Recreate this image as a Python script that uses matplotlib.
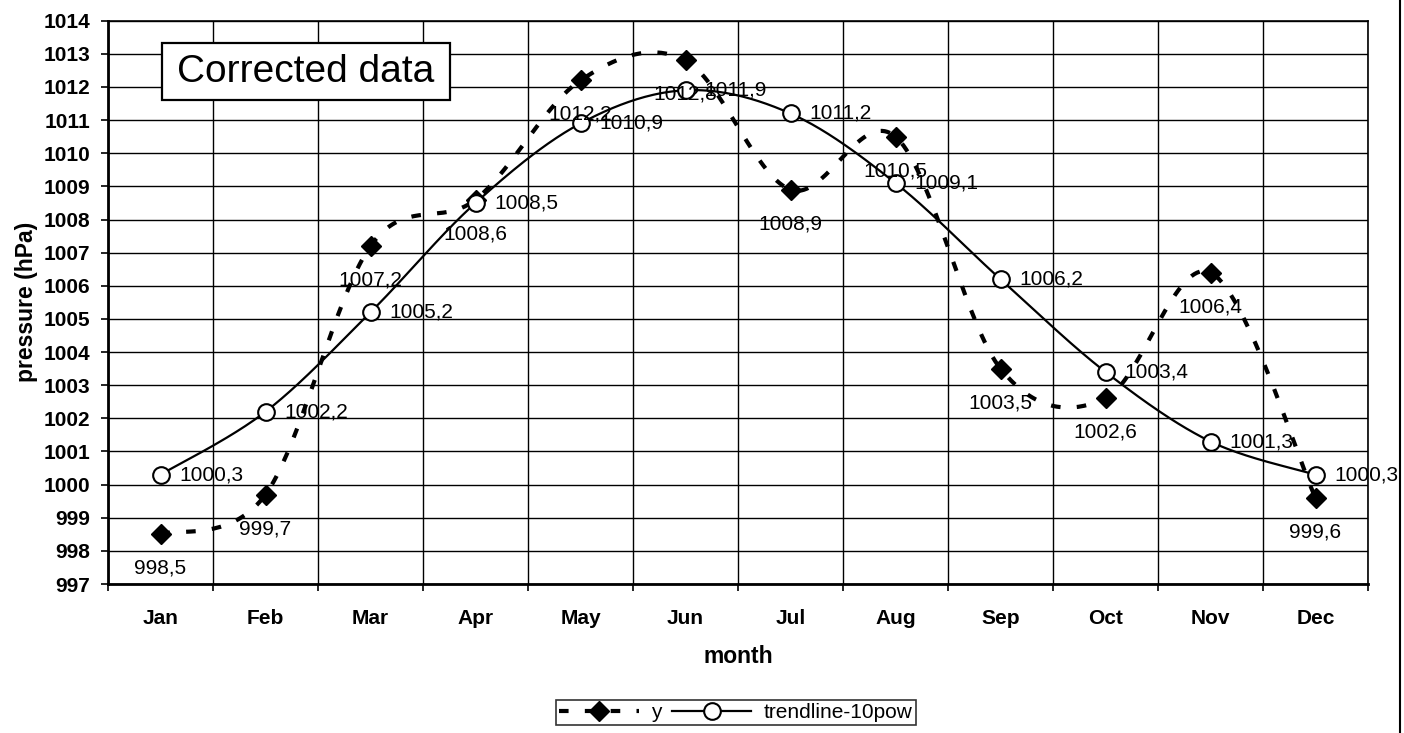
import numpy as np
import matplotlib
matplotlib.use("Agg")
import matplotlib.pyplot as plt
from matplotlib.patches import Rectangle
from matplotlib.lines import Line2D

plt.rcParams['font.family'] = ['Liberation Sans', 'DejaVu Sans']

months = ["Jan", "Feb", "Mar", "Apr", "May", "Jun", "Jul", "Aug", "Sep", "Oct", "Nov", "Dec"]
y_values = [998.5, 999.7, 1007.2, 1008.6, 1012.2, 1012.8, 1008.9, 1010.5, 1003.5, 1002.6, 1006.4, 999.6]
trend_values = [1000.3, 1002.2, 1005.2, 1008.5, 1010.9, 1011.9, 1011.2, 1009.1, 1006.2, 1003.4, 1001.3, 1000.3]
y_ticks = list(range(997, 1015))
series_names = ["y", "trendline-10pow"]
title_text = "Corrected data"
xlabel = "month"
ylabel = "pressure (hPa)"


def smooth(xv, yv, n=40):
    pts = np.column_stack([xv, yv]).astype(float)
    P = np.vstack([pts[0], pts, pts[-1]])
    out = []
    for i in range(len(pts) - 1):
        p0, p1, p2, p3 = P[i], P[i + 1], P[i + 2], P[i + 3]
        c1 = p1 + (p2 - p0) / 6.0
        c2 = p2 - (p3 - p1) / 6.0
        t = np.linspace(0, 1, n)[:, None]
        b = (1 - t) ** 3 * p1 + 3 * (1 - t) ** 2 * t * c1 + 3 * (1 - t) * t ** 2 * c2 + t ** 3 * p2
        out.append(b if i == 0 else b[1:])
    return np.vstack(out)


W, H = 1404, 733
fig = plt.figure(figsize=(W / 100, H / 100), dpi=100)
ax = fig.add_axes([108 / W, 1 - 584 / H, (1368 - 108) / W, (584 - 20.7) / H])

x = np.arange(len(months))

# grid
ax.set_xlim(-0.5, len(months) - 0.5)
ax.set_ylim(y_ticks[0], y_ticks[-1])
ax.set_yticks(y_ticks)
ax.set_yticklabels([str(v) for v in y_ticks], fontsize=15, fontweight='bold')
ax.set_xticks(np.arange(-0.5, len(months), 1.0))
ax.set_xticklabels([])
ax.set_xticks(x, minor=True)
ax.set_xticklabels(months, minor=True, fontsize=15, fontweight='bold')
ax.tick_params(axis='x', which='minor', length=0, pad=18)
ax.tick_params(axis='x', which='major', length=5, width=1.2, direction='out', color='black')
ax.tick_params(axis='y', length=5, width=1.2, direction='out', pad=8)
ax.grid(True, which='major', color='black', linewidth=1.0)
ax.set_axisbelow(True)
for s in ax.spines.values():
    s.set_linewidth(1.2)
    s.set_color('black')
ax.spines['left'].set_linewidth(2.0)
ax.spines['bottom'].set_linewidth(2.0)

ax.set_xlabel(xlabel, fontsize=16.5, fontweight='bold', labelpad=12)
ax.set_ylabel(ylabel, fontsize=16.5, fontweight='bold', labelpad=4)

# y series: smoothed dashed line with diamonds
sy = smooth(x, y_values)
ax.plot(sy[:, 0], sy[:, 1], color='black', linewidth=3.0, dashes=(2.3, 3.9),
        dash_capstyle='butt', zorder=3, clip_on=False)
ax.plot(x, y_values, linestyle='none', marker='D', markersize=10.5, color='black', zorder=5, clip_on=False)

# trend series: smooth solid line with open circles
st = smooth(x, trend_values)
ax.plot(st[:, 0], st[:, 1], color='black', linewidth=1.6, zorder=4, clip_on=False)
ax.plot(x, trend_values, linestyle='none', marker='o', markersize=12, markerfacecolor='white',
        markeredgecolor='black', markeredgewidth=1.5, zorder=6, clip_on=False)


def fmt(v):
    return f"{v:.1f}".replace('.', ',')


for xi, v in zip(x, y_values):
    ax.annotate(fmt(v), (xi, v), xytext=(0, -24.5), textcoords='offset points',
                ha='center', va='center', fontsize=15, zorder=7, annotation_clip=False)
for xi, v in zip(x, trend_values):
    ax.annotate(fmt(v), (xi, v), xytext=(13.5, 0), textcoords='offset points',
                ha='left', va='center', fontsize=15, zorder=7, annotation_clip=False)

# "Corrected data" box
bx0, bx1, by0, by1 = 162, 450, 43, 100
fig.patches.append(Rectangle((bx0 / W, 1 - by1 / H), (bx1 - bx0) / W, (by1 - by0) / H,
                             transform=fig.transFigure, facecolor='white', edgecolor='black',
                             linewidth=1.6, zorder=10))
fig.text((bx0 + bx1) / 2 / W, 1 - (by0 + by1) / 2 / H, title_text, ha='center', va='center',
         fontsize=28, zorder=11)

# legend
h1 = Line2D([], [], color='black', linewidth=3.0, dashes=(2.3, 3.9), dash_capstyle='butt',
            marker='D', markersize=10)
h2 = Line2D([], [], color='black', linewidth=1.6, marker='o', markersize=12,
            markerfacecolor='white', markeredgecolor='black', markeredgewidth=1.5)
leg = fig.legend([h1, h2], series_names, loc='upper center', bbox_to_anchor=(736 / W, 1 - 700 / H),
                 ncol=2, fontsize=15, frameon=True, fancybox=False, edgecolor='black',
                 handlelength=3.8, handletextpad=0.6, columnspacing=0.5, borderpad=0.15,
                 borderaxespad=0, numpoints=1)
leg.get_frame().set_linewidth(1.2)

# right border line of the scanned page
fig.add_artist(Line2D([1399.5 / W, 1399.5 / W], [0, 1], transform=fig.transFigure,
                      color='black', linewidth=1.5))

fig.savefig("out.png", dpi=100, facecolor='white')
